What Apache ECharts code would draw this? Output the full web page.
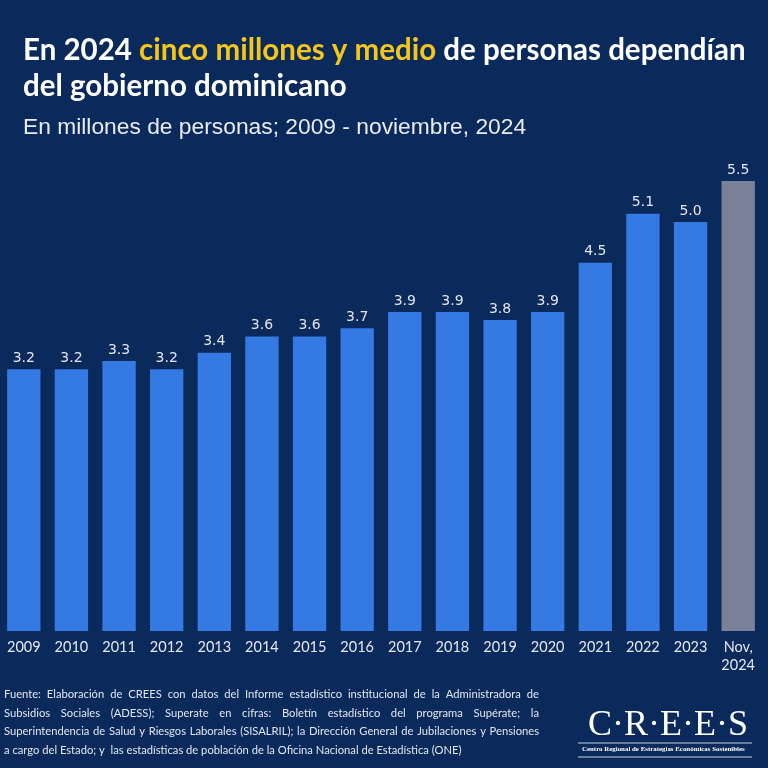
<!DOCTYPE html>
<html><head><meta charset="utf-8">
<script src="https://cdn.jsdelivr.net/npm/echarts@6/dist/echarts.min.js"></script>
<style>html,body{margin:0;padding:0;background:#0b2a5c}#c{width:768px;height:768px}</style>
</head><body><div id="c"></div>
<script>
const categories = ['2009','2010','2011','2012','2013','2014','2015','2016','2017','2018','2019','2020','2021','2022','2023','Nov,\n2024'];
const values = [3.2,3.2,3.3,3.2,3.4,3.6,3.6,3.7,3.9,3.9,3.8,3.9,4.5,5.1,5.0,5.5];
const footLines = [
  'Fuente: Elaboración de CREES con datos del Informe estadístico institucional de la Administradora de',
  'Subsidios Sociales (ADESS);   Superate en cifras: Boletín estadístico del programa Supérate; la',
  'Superintendencia de Salud y Riesgos Laborales (SISALRIL); la Dirección General de Jubilaciones y Pensiones',
  'a cargo del Estado; y  las estadísticas de población de la Oficina Nacional de Estadística (ONE)'
];
const BG = '#0b2a5c', BLUE = '#3579e3', GREY = '#7a8299';
const FOOT_FONT = '11.2px Lato';
const chart = echarts.init(document.getElementById('c'), null, {renderer:'canvas'});

// justified footnote (all lines but the last)
const ctx = document.createElement('canvas').getContext('2d');
ctx.font = FOOT_FONT;
const footGraphics = [];
const FL = 4, FR = 539;
footLines.forEach((t,i)=>{
  const top = 689 + i*18.6;
  if (i === footLines.length-1) {
    footGraphics.push({type:'text', left:FL, top:top, style:{text:t, fill:'#e2e6ee', font:FOOT_FONT}});
    return;
  }
  const words = t.split(/\s+/);
  const widths = words.map(w=>ctx.measureText(w).width);
  const total = widths.reduce((a,b)=>a+b,0);
  const gap = (FR-FL-total)/(words.length-1);
  let x = FL;
  words.forEach((w,j)=>{
    footGraphics.push({type:'text', x:x, y:top, style:{text:w, fill:'#e2e6ee', font:FOOT_FONT}});
    x += widths[j] + gap;
  });
});

chart.setOption({
  backgroundColor: BG,
  animation:false,
  grid:{left:0, right:6, top:181, bottom:137, containLabel:false},
  xAxis:{type:'category', data:categories, axisLine:{show:false}, axisTick:{show:false},
    axisLabel:{color:'#e6e8ee', fontFamily:'Lato', fontSize:14.5, margin:7, lineHeight:18, interval:0}},
  yAxis:{type:'value', min:0, max:5.5, show:false, splitLine:{show:false}},
  series:[{type:'bar', barCategoryGap:'30%',
    data: values.map((v,i)=>({value:v, itemStyle:{color: i===values.length-1?GREY:BLUE}})),
    label:{show:true, position:'top', distance:4, color:'#e3e6ec', fontFamily:'DejaVu Sans', fontSize:14,
      formatter:p=>p.value.toFixed(1)}}],
  graphic:[
    {type:'text', left:23, top:35, style:{rich:{w:{fill:'#ffffff', font:'bold 29.5px Lato'}, y:{fill:'#f4c51b', font:'bold 29.5px Lato'}},
      text:'{w|En 2024 }{y|cinco millones y medio}{w| de personas dependían}'}},
    {type:'text', left:23, top:71, style:{text:'del gobierno dominicano', fill:'#ffffff', font:'bold 29.5px Lato'}},
    {type:'text', left:23, top:116, style:{text:'En millones de personas; 2009 - noviembre, 2024', fill:'#e8ebf0', font:'22.8px "Liberation Sans"'}},
    ...footGraphics,
    {type:'text', left:588, top:708, style:{text:'C·R·E·E·S', fill:'#ffffff', font:'36px "Liberation Serif"'}},
    {type:'line', shape:{x1:578, y1:743, x2:752, y2:743}, style:{stroke:'#c9d0dc', lineWidth:1}},
    {type:'text', left:582, top:746, style:{text:'Centro Regional de Estrategias Económicas Sostenibles', fill:'#ffffff', font:'bold 6.9px "Liberation Serif"'}},
    {type:'line', shape:{x1:578, y1:757, x2:752, y2:757}, style:{stroke:'#c9d0dc', lineWidth:1}}
  ]
});
</script></body></html>
